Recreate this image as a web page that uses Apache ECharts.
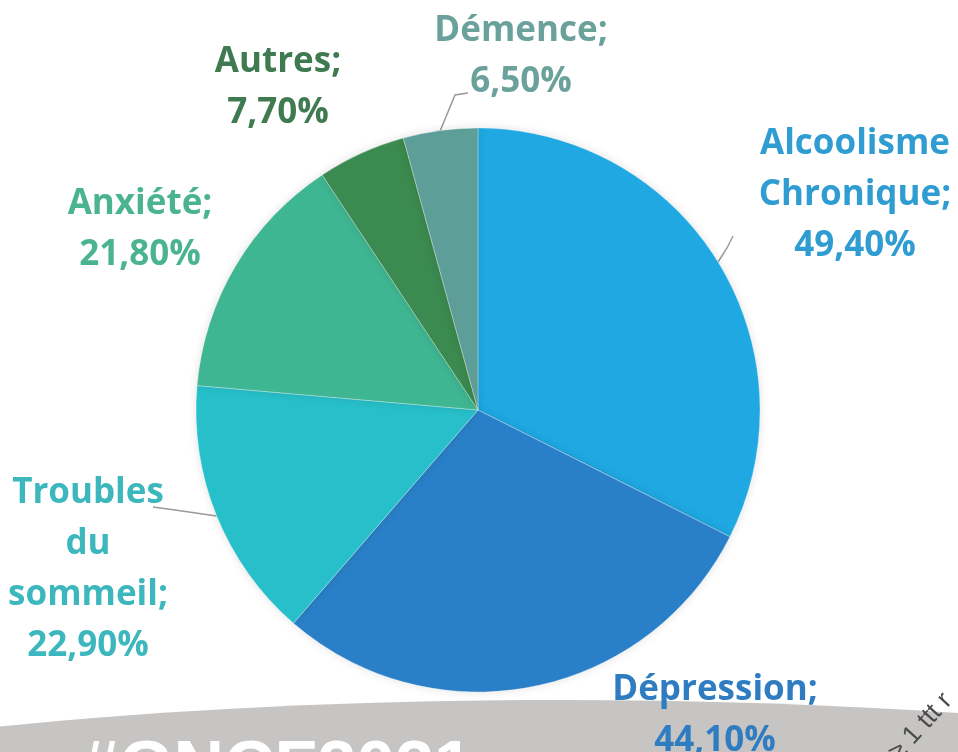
<!DOCTYPE html>
<html>
<head>
<meta charset="UTF-8">
<style>
	html, body { margin: 0; padding: 0; background: #fff; }
	#pie { width: 958px; height: 752px; }
</style>
</head>
<body>
	<div id="pie"></div>
</body>
<script src="https://cdn.jsdelivr.net/npm/echarts@6/dist/echarts.min.js"></script>
<script type="text/javascript">
// données
var categories = ['Alcoolisme Chronique', 'Dépression', 'Troubles du sommeil', 'Anxiété', 'Autres', 'Démence'];
var values = [49.4, 44.1, 22.9, 21.8, 7.7, 6.5];
var sliceColors = ['#1fa8e2', '#2a80c8', '#27c0ca', '#3fb692', '#3b8a4f', '#5d9f98'];
var labelColors = ['#2f9dd2', '#2f7dc0', '#3cb7bd', '#4ab48f', '#3f7a50', '#6aa29b'];
var showLine = [true, false, true, false, false, true];

// position des étiquettes (comme dans le graphique d'origine)
var labelPos = [[855, 195], [715, 716], [88, 570], [140, 230], [278, 88], [521, 57]];
// coudes des traits de rappel (le premier point vient du camembert)
var linePts = [
	[[727, 248], [733, 236]],
	null,
	[[175, 510], [153, 507]],
	null,
	null,
	[[455, 95], [468, 93]]
];

function fmt(v) {
	return v.toFixed(2).replace('.', ',') + '%';
}

var data = [];
for (var i = 0; i < categories.length; i++) {
	data.push({
		name: categories[i],
		value: values[i],
		itemStyle: { color: sliceColors[i] },
		label: { color: labelColors[i] },
		labelLine: { show: showLine[i] }
	});
}

var myChart = echarts.init(document.getElementById('pie'));

var option = {
	backgroundColor: '#ffffff',
	animation: false,
	graphic: [
		{
			type: 'ellipse',
			shape: { cx: 560, cy: 930, rx: 1200, ry: 230 },
			style: { fill: '#c7c5c3' },
			z: -1
		},
		{
			type: 'text',
			x: 80, y: 736,
			style: {
				text: '#GNCF2021',
				fill: '#ffffff',
				font: 'bold 70px "Liberation Sans"',
				textVerticalAlign: 'top'
			},
			z: 0
		},
		{
			type: 'text',
			x: 884, y: 748,
			rotation: 48 * Math.PI / 180,
			style: {
				text: '≥ 1 ttt r',
				fill: '#4a4a4a',
				font: '26px "Liberation Sans"'
			},
			z: 0
		}
	],
	series: [{
		type: 'pie',
		center: [478, 410],
		radius: 282,
		startAngle: 90,
		itemStyle: {
			borderColor: 'rgba(255,255,255,0.3)',
			borderWidth: 1,
			shadowBlur: 10,
			shadowColor: 'rgba(0,0,0,0.12)'
		},
		label: {
			show: true,
			position: 'outside',
			fontFamily: 'Open Sans',
			fontWeight: 'bold',
			fontSize: 35,
			lineHeight: 51,
			align: 'center',
			formatter: function (p) {
				return p.name.split(' ').join('\n') + ';\n' + fmt(p.value);
			}
		},
		labelLine: {
			lineStyle: { color: '#9a9a9a', width: 1.5 },
			length: 10,
			length2: 10
		},
		labelLayout: function (params) {
			var i = params.dataIndex;
			var pos = labelPos[i];
			var res = {
				x: pos[0],
				y: pos[1],
				align: 'center',
				verticalAlign: 'middle'
			};
			if (linePts[i] && params.labelLinePoints) {
				res.labelLinePoints = [params.labelLinePoints[0], linePts[i][0], linePts[i][1]];
			}
			return res;
		},
		data: data
	}]
};

myChart.setOption(option);
</script>
</html>
